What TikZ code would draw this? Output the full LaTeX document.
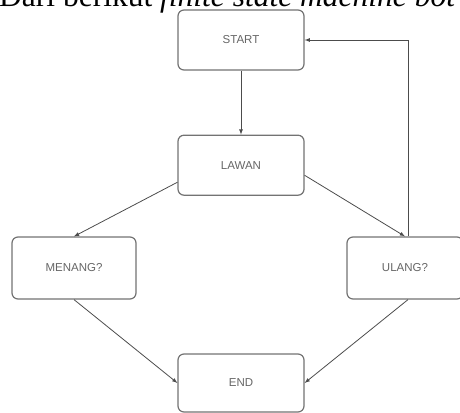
\documentclass[tikz,border=0pt]{standalone}
\usepackage{fontspec}
\setmainfont{Liberation Serif}
\setsansfont{Liberation Sans}
\usepackage{tikz}
\usetikzlibrary{arrows,positioning}
\colorlet{bx}{black!55}
\colorlet{ln}{black!70}
\colorlet{tx}{black!60}
\tikzset{st/.style={rectangle, rounded corners=6pt, draw=bx, line width=1.2pt, fill=white,
            minimum width=126pt, minimum height=60pt, inner sep=0pt,
            font=\sffamily\fontsize{11.5}{13}\selectfont, text=tx},
         tr/.style={->, >=latex, draw=ln, line width=0.8pt}}

\begin{document}
\begin{tikzpicture}[x=1pt, y=-1pt, node distance=64pt]
\useasboundingbox (0,0) rectangle (460,412);
\node (head) [anchor=base west, inner sep=0pt, font=\fontsize{31.5}{34}\selectfont]
      at (-1,7) {Dari berikut \textit{finite state machine bot}};
\node[st] (start) at (241,40) {START};
\node[st, below=of start] (lawan) {LAWAN};
\node[st, minimum width=124pt, minimum height=62pt] (menang) at (74,268) {MENANG?};
\node[st, minimum width=116pt, minimum height=62pt] (ulang) at (405,268) {ULANG?};
\node[st, minimum height=58pt] (end) at (241,383) {END};
\coordinate (up) at ([xshift=3pt]ulang.north);
\draw[tr] (start) to (lawan);
\draw[tr] (lawan.195) to (menang.north);
\draw[tr] (lawan.351) to (ulang.north);
\draw[tr] (menang.south) to (end.west);
\draw[tr] (up |- ulang.south) to (end.east);
\draw[tr] (up) |- (start.east);
\end{tikzpicture}
\end{document}
